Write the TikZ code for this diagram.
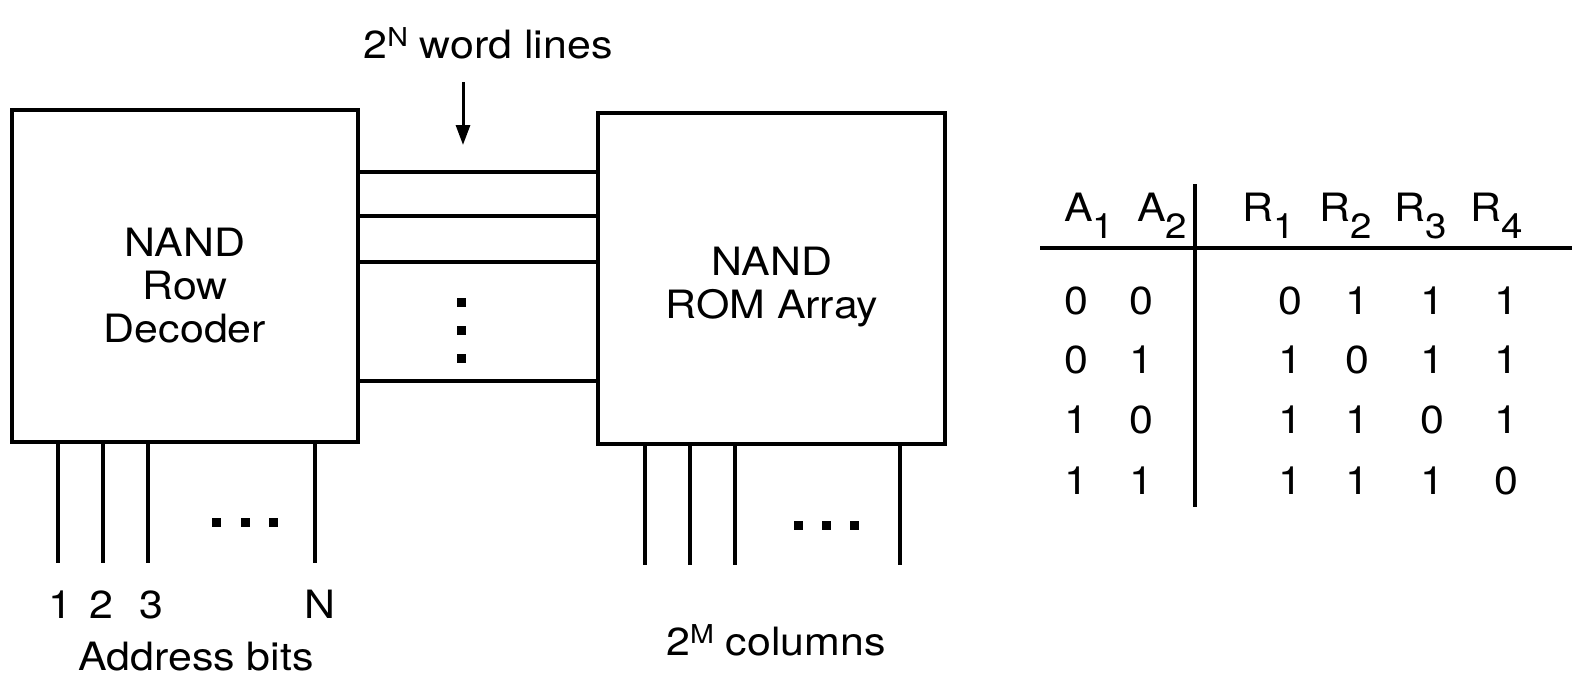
\documentclass[tikz,border=0pt]{standalone}
\usepackage{fontspec}
\setmainfont{TeX Gyre Heros}[FakeStretch=1.1]
\usetikzlibrary{arrows.meta}
\newcommand\mysub[1]{\raisebox{-17pt}{\fontsize{35}{35}\selectfont #1}}
\newcommand\mysup[1]{\raisebox{12pt}{\fontsize{26}{26}\selectfont #1}}
\begin{document}
\begin{tikzpicture}[x=1pt,y=-1pt,
  every node/.style={inner sep=0pt,outer sep=0pt,font=\fontsize{39}{43}\selectfont},
  blk/.style={draw,line width=4.5pt,rectangle},
  lbl/.style={anchor=base,align=center},
  wire/.style={line width=4pt},
  dotsq/.style={fill=black,minimum size=9pt,rectangle}]
\useasboundingbox (0,0) rectangle (1572,680);
% boxes
\node[blk,minimum width=346pt,minimum height=332pt] (dec) at (185,276) {};
\node[blk,minimum width=347pt,minimum height=331pt] (rom) at (771.5,278.5) {};
\node[lbl,anchor=center] (dect) at (185,286) {NAND\\Row\\Decoder};
\node[lbl,anchor=center] (romt) at (772,287) {NAND\\ROM Array};
% word lines
\foreach \y/\n in {172/1,216/2,262/3,381/4}{
  \coordinate (wl\n) at (358,\y);
  \coordinate (wr\n) at (598,\y);
  \draw[wire] (wl\n) -- (wr\n);
}
\foreach \y/\n in {302/1,330/2,358/3}{\node[dotsq] (vd\n) at (461,\y) {};}
\node[lbl] (wltxt) at (488,58) {2\mysup{N} word lines};
\coordinate (arrs) at (463,82);
\coordinate (arre) at (463,145);
\draw[line width=3pt,-{Triangle[length=20pt,width=14pt]}] (arrs) -- (arre);
% address bits
\foreach \x/\n in {58/1,103/2,148/3,315/4}{
  \coordinate (at\n) at (\x,442);
  \coordinate (ab\n) at (\x,563);
  \draw[wire] (at\n) -- (ab\n);
}
\foreach \x/\n in {216/1,245/2,273/3}{\node[dotsq] (hd\n) at (\x,522) {};}
\node[lbl] (n1) at (60,618) {1};
\node[lbl] (n2) at (101,618) {2};
\node[lbl] (n3) at (151,618) {3};
\node[lbl] (nN) at (320,618) {N};
\node[lbl] (abits) at (196,670) {Address bits};
% columns
\foreach \x/\n in {645/1,690/2,735/3,900/4}{
  \coordinate (ct\n) at (\x,444);
  \coordinate (cb\n) at (\x,565);
  \draw[wire] (ct\n) -- (cb\n);
}
\foreach \x/\n in {798/1,826/2,854/3}{\node[dotsq] (cd\n) at (\x,525) {};}
\node[lbl] (cols) at (776,655) {2\mysup{M} columns};
% table
\coordinate (vt) at (1195,184);
\coordinate (vb) at (1195,507);
\coordinate (hl) at (1040,248);
\coordinate (hr) at (1572,248);
\draw[wire] (vt) -- (vb);
\draw[wire] (hl) -- (hr);
\foreach \x/\t/\n in {1089/A\mysub{1}/a1,1162/A\mysub{2}/a2,1269/R\mysub{1}/r1,1346/R\mysub{2}/r2,1421/R\mysub{3}/r3,1497/R\mysub{4}/r4}{
  \node[lbl] (h\n) at (\x,221) {\t};
}
\foreach \y/\a/\b/\p/\q/\r/\s/\k in {314/0/0/0/1/1/1/1,373/0/1/1/0/1/1/2,433/1/0/1/1/0/1/3,494/1/1/1/1/1/0/4}{
  \node[lbl] (c\k a) at (1076,\y) {\a};
  \node[lbl] (c\k b) at (1141,\y) {\b};
  \node[lbl] (c\k c) at (1290,\y) {\p};
  \node[lbl] (c\k d) at (1357,\y) {\q};
  \node[lbl] (c\k e) at (1432,\y) {\r};
  \node[lbl] (c\k f) at (1506,\y) {\s};
}
\end{tikzpicture}
\end{document}
